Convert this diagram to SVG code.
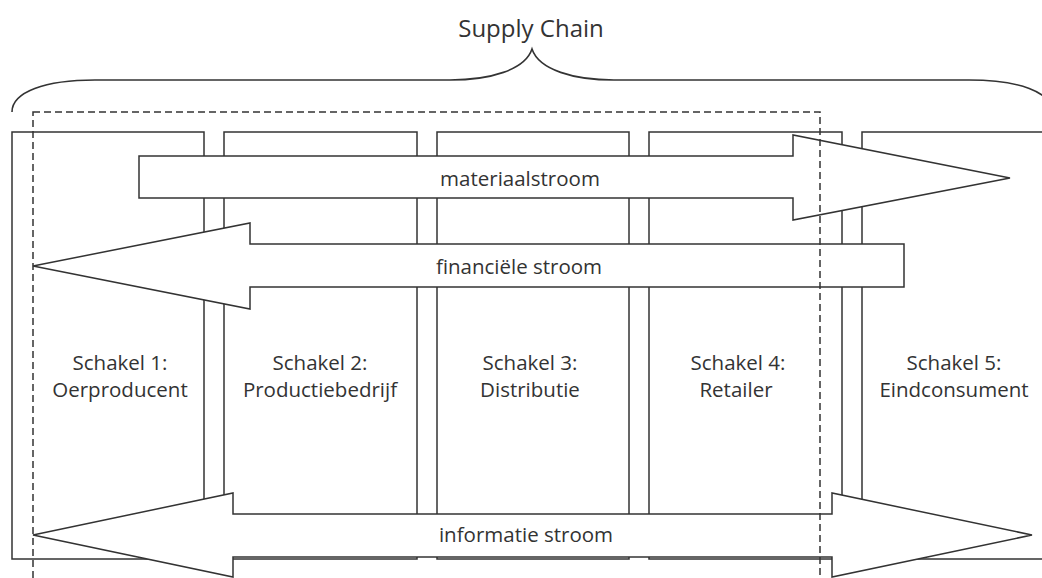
<svg xmlns="http://www.w3.org/2000/svg" width="1042" height="578" viewBox="0 0 1042 578">
<style>
.ln{fill:#fff;stroke:#333;stroke-width:1.5;stroke-linejoin:miter}
.br{fill:none;stroke:#333;stroke-width:1.6}
.ds{fill:none;stroke:#333;stroke-width:1.5;stroke-dasharray:7 4}
.t{font-family:"Open Sans","Liberation Sans",sans-serif;font-size:20.5px;fill:#333;text-anchor:middle}
.h{font-size:24px}
</style>
<rect width="1042" height="578" fill="#fff"/>
<g id="schakel1"><rect class="ln" x="12" y="132" width="192" height="427"/></g>
<g id="schakel2"><rect class="ln" x="224" y="132" width="193" height="427"/></g>
<g id="schakel3"><rect class="ln" x="437" y="132" width="192" height="427"/></g>
<g id="schakel4"><rect class="ln" x="649" y="132" width="193" height="427"/></g>
<g id="schakel5"><rect class="ln" x="862" y="132" width="200" height="427"/></g>
<g id="connectors">
<polygon class="ln" points="139,156 793,156 793,135 1010,178 793,220 793,198 139,198"/>
<polygon class="ln" points="904,244 250,244 250,223 33,266 250,309 250,287 904,287"/>
<polygon class="ln" points="33,535 233,493 233,514 832,514 832,493 1032,535 832,577 832,557 233,557 233,577"/>
</g>
<g id="supply-chain">
<path class="br" d="M12,112 C12,92 45,80 95,80 L450,80 C490,80 525,70 532,49 C539,70 574,80 614,80 L969,80 C1019,80 1052,92 1052,112"/>
<rect class="ds" x="33" y="112" width="787" height="480"/>
<text class="t h" x="531" y="37">Supply Chain</text>
</g>
<g id="labels">
<text class="t" x="520" y="186">materiaalstroom</text>
<text class="t" x="519" y="274">financiële stroom</text>
<text class="t" x="526" y="542">informatie stroom</text>
<text class="t" x="120" y="370">Schakel 1:</text>
<text class="t" x="120" y="397">Oerproducent</text>
<text class="t" x="320" y="370">Schakel 2:</text>
<text class="t" x="320" y="397">Productiebedrijf</text>
<text class="t" x="530" y="370">Schakel 3:</text>
<text class="t" x="530" y="397">Distributie</text>
<text class="t" x="738" y="370">Schakel 4:</text>
<text class="t" x="736" y="397">Retailer</text>
<text class="t" x="954" y="370">Schakel 5:</text>
<text class="t" x="954" y="397">Eindconsument</text>
</g>
</svg>
